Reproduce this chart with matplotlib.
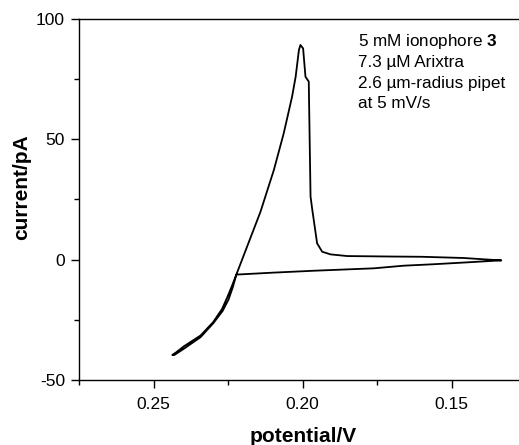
import matplotlib
matplotlib.use("Agg")
import matplotlib.pyplot as plt
from matplotlib.ticker import MultipleLocator, FormatStrFormatter

plt.rcParams['font.family'] = ['Liberation Sans', 'DejaVu Sans']
plt.rcParams['mathtext.fontset'] = 'custom'
plt.rcParams['mathtext.rm'] = 'Liberation Sans'
plt.rcParams['mathtext.bf'] = 'Liberation Sans:bold'
plt.rcParams['axes.unicode_minus'] = False

# cyclic voltammogram
# forward scan (lower branch), right end -> left end
potential_fwd = [0.1335, 0.1459, 0.1560, 0.1660, 0.1761, 0.1862, 0.1962, 0.2100,
                 0.2222, 0.2234, 0.2248, 0.2268, 0.2300, 0.2342, 0.2398, 0.2430,
                 0.2437]
current_fwd = [-0.3, -1.2, -1.9, -2.5, -3.6, -4.1, -4.6, -5.4,
               -6.2, -11.5, -16.5, -21.3, -26.5, -32.2, -37.0, -39.6,
               -39.6]
# reverse scan (upper branch), left end -> right end
potential_rev = [0.2425, 0.2398, 0.2342, 0.2300, 0.2270, 0.2252, 0.2237, 0.2222,
                 0.2186, 0.2141, 0.2096, 0.2063, 0.2035, 0.2023, 0.2012, 0.2007,
                 0.1998, 0.1990, 0.1979, 0.1973, 0.1967, 0.1951, 0.1934, 0.1906,
                 0.1850, 0.1700, 0.1600, 0.1460, 0.1335]
current_rev = [-38.6, -36.0, -31.5, -26.0, -20.5, -15.5, -11.0, -6.2,
               5.4, 19.9, 37.3, 52.5, 67.7, 76.0, 87.1, 89.2,
               87.8, 76.0, 74.0, 26.2, 20.6, 6.8, 3.3, 2.2,
               1.5, 1.3, 1.2, 0.7, -0.3]

notes = ["5 mM ionophore $\\mathbf{3}$", "7.3 \u00b5M Arixtra",
         "2.6 \u00b5m-radius pipet", "at 5 mV/s"]

W, H = 519, 445
fig = plt.figure(figsize=(W / 100, H / 100), dpi=100)
# right side of the frame runs past the picture edge
ax = fig.add_axes([79 / W, 65 / H, 447 / W, 361 / H])

ax.plot(potential_fwd + potential_rev, current_fwd + current_rev,
        color='black', lw=1.3)

ax.set_xlim(0.275, 0.125)
ax.set_ylim(-50, 100)
ax.xaxis.set_major_locator(MultipleLocator(0.05))
ax.xaxis.set_minor_locator(MultipleLocator(0.025))
ax.xaxis.set_major_formatter(FormatStrFormatter('%.2f'))
ax.yaxis.set_major_locator(MultipleLocator(50))
ax.yaxis.set_minor_locator(MultipleLocator(25))

for s in ax.spines.values():
    s.set_linewidth(1.0)
ax.tick_params(which='major', direction='out', length=6, width=1.0,
               labelsize=12.5, pad=4)
ax.tick_params(which='minor', direction='out', length=3.5, width=1.0)
ax.tick_params(axis='x', pad=6)

fig.text(303 / W, 1 - 436 / H, 'potential/V', fontsize=15, fontweight='bold',
         ha='center', va='center')
fig.text(22 / W, 1 - 187 / H, 'current/pA', fontsize=15, fontweight='bold',
         ha='center', va='center', rotation=90)

baselines = [46, 67, 88, 108]
for txt, yb in zip(notes, baselines):
    fig.text(358 / W, 1 - yb / H, txt, fontsize=12.3, ha='left', va='baseline')

fig.savefig('out.png', dpi=100)
